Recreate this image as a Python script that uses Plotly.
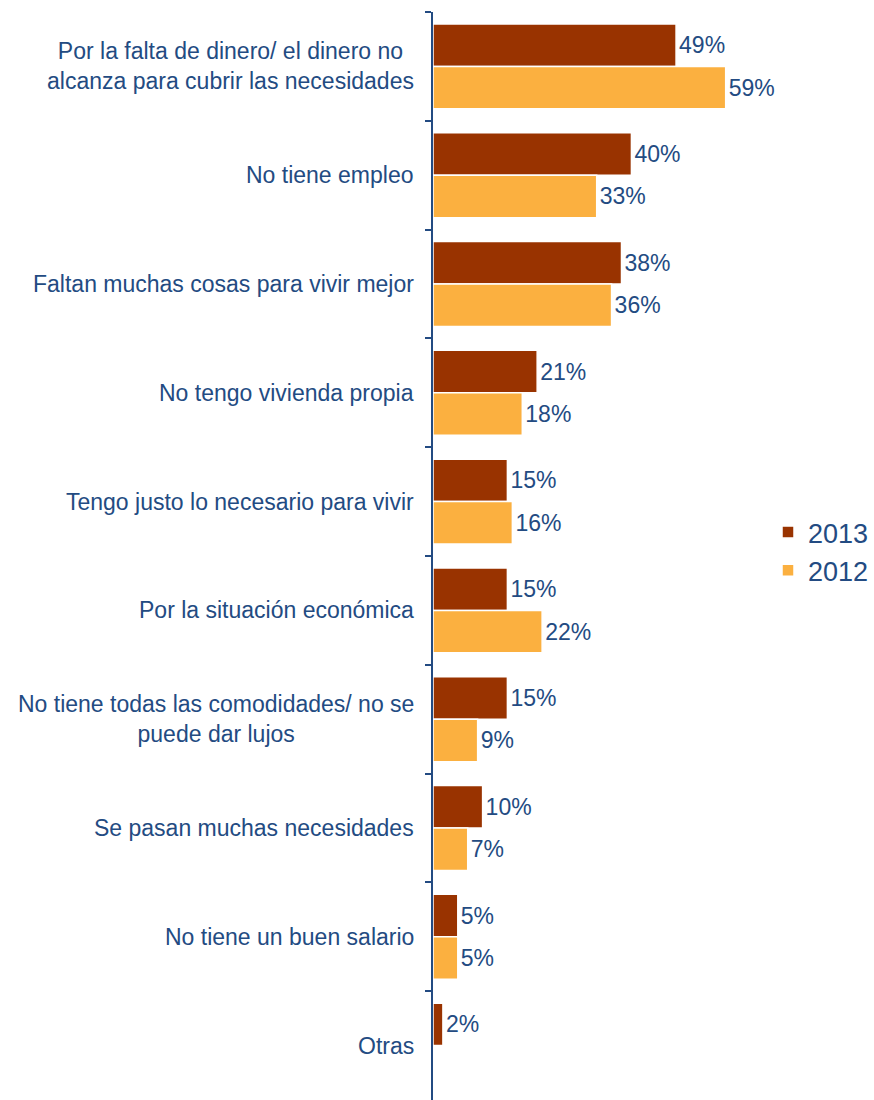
import plotly.graph_objects as go

categories = [
    "Por la falta de dinero/ el dinero no<br>alcanza para cubrir las necesidades",
    "No tiene empleo",
    "Faltan muchas cosas para vivir mejor",
    "No tengo vivienda propia",
    "Tengo justo lo necesario para vivir",
    "Por la situación económica",
    "No tiene todas las comodidades/ no se<br>puede dar lujos",
    "Se pasan muchas necesidades",
    "No tiene un buen salario",
    "Otras",
]
values_2013 = [49, 40, 38, 21, 15, 15, 15, 10, 5, 2]
values_2012 = [59, 33, 36, 18, 16, 22, 9, 7, 5, None]
series_names = ["2013", "2012"]
series_colors = ["#993300", "#FBB040"]

W, H = 874, 1100
ML, MT, MR, MB = 433, 12, 0, 0
PW, PH = W - ML - MR, H - MT - MB

TXT = "#234B82"
FONT = "Liberation Sans, Arial, sans-serif"

def ypaper(py):
    return (H - MB - py) / PH

fig = go.Figure()
for name, vals, col in zip(series_names, [values_2013, values_2012], series_colors):
    fig.add_trace(go.Bar(
        name=name,
        legendgroup=name,
        y=categories,
        x=vals,
        orientation="h",
        marker=dict(color=col, line=dict(color="white", width=1.5)),
        text=[f"{v}%" if v is not None else "" for v in vals],
        textposition="outside",
        cliponaxis=False,
        textfont=dict(size=23, color=TXT, family=FONT),
    ))

# category labels as annotations (centered multi-line)
for c in categories:
    fig.add_annotation(
        x=0, xref="paper", y=c, yref="y",
        text=c, showarrow=False, xanchor="right", yanchor="middle",
        xshift=-17, align="center",
        font=dict(size=23, color=TXT, family=FONT),
    )

fig.update_layout(
    width=W, height=H,
    margin=dict(l=ML, r=MR, t=MT, b=MB),
    paper_bgcolor="white", plot_bgcolor="white",
    barmode="group", bargap=0.22, bargroupgap=0.0,
    font=dict(family=FONT, color=TXT),
    showlegend=True,
    legend=dict(
        x=1.0, xanchor="right", y=ypaper(508), yanchor="top",
        bgcolor="white", font=dict(size=27, color=TXT, family=FONT),
        traceorder="normal", itemwidth=30, tracegroupgap=7,
    ),
    xaxis=dict(range=[0, 88.9], visible=False, fixedrange=True),
    yaxis=dict(
        autorange="reversed", type="category",
        showticklabels=False, tickson="boundaries",
        ticks="outside", ticklen=6, tickcolor=TXT, tickwidth=1.5,
        showline=True, linecolor=TXT, linewidth=2,
        showgrid=False, zeroline=False,
    ),
)

fig.write_html("out.html", config={"displayModeBar": False},
               post_script="document.body.style.margin='0';")
